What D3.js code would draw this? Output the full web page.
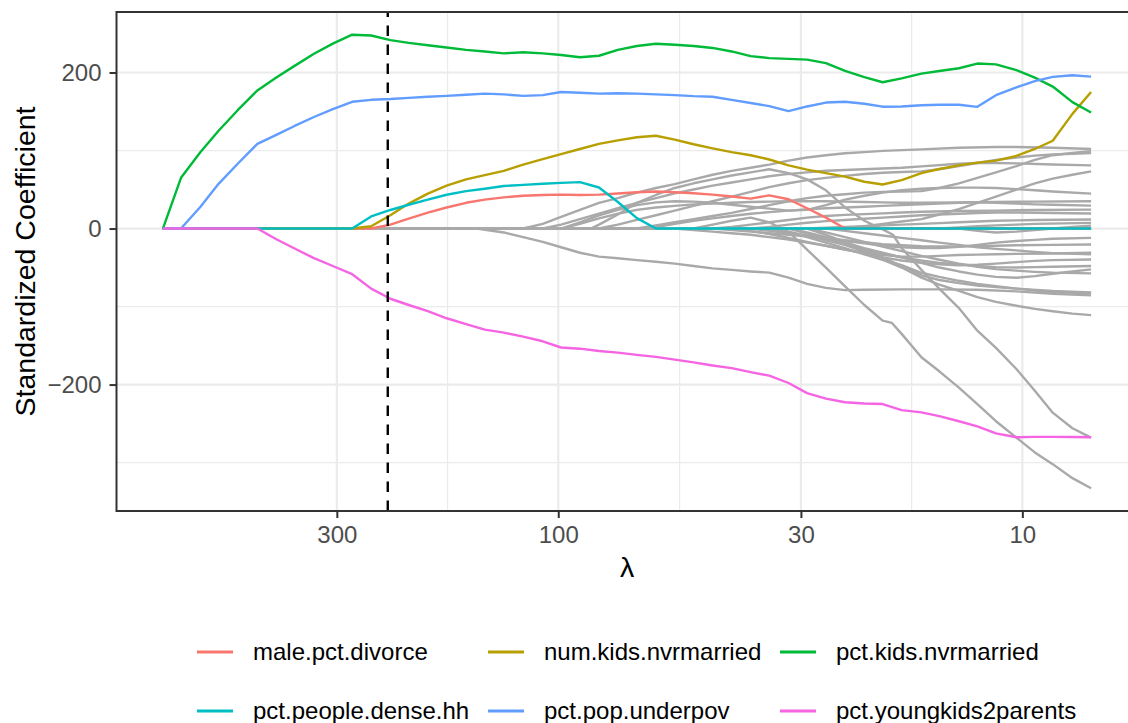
<!DOCTYPE html>
<html><head><meta charset="utf-8">
<script src="https://cdn.jsdelivr.net/npm/d3@7"></script>
<style>
html,body{margin:0;padding:0;background:#fff;}
svg{display:block;font-family:"Liberation Sans",Arial,Helvetica,sans-serif;}
</style></head>
<body><svg id="chart" width="1128" height="723"></svg>
<script>
// ---------------- data ----------------
const lambda = [711,650,590,540,490,445,405,370,336,306,278,253,230,210,191,174,158,144,131,119,108,98.6,89.8,81.7,74.4,67.7,61.6,56.1,51.1,46.5,42.3,38.5,35.1,31.9,29.1,26.5,24.1,21.9,20.0,18.2,16.5,15.1,13.7,12.5,11.4,10.3,9.4,8.6,7.8,7.11];

const seriesNames = ["male.pct.divorce","num.kids.nvrmarried","pct.kids.nvrmarried","pct.people.dense.hh","pct.pop.underpov","pct.youngkids2parents"];
const seriesColors = ["#F8766D","#B79F00","#00BA38","#00BFC4","#619CFF","#F564E3"];

const malePctDivorce = [0,0,0,0,0,0,0,0,0,0,0,0,5,12.6,20.5,27,33,37,40,42,43,43.5,43,43.5,45,46.5,47.5,46.5,45.2,43.5,41,38.4,42.5,37.5,26,14,0,0,0,0,0,0,0,0,0,0,0,0,0,0];
const numKidsNvrmarried = [0,0,0,0,0,0,0,0,0,0,0,3,17,32,44.7,55,63,68.5,74,82,89,95.5,102,108.5,113,117,119,114,108,102.8,98,94,88.5,81,75.5,71,66.5,60,56.5,62,71,76.3,81,84.5,87,93,102,112.5,147,175];
const pctKidsNvrmarried = [0,65,98,125,152,177,193.6,208.5,224,237,248.5,247.5,241.5,238,235,232,229,227,224.5,226,224.5,222.5,219.5,221.5,229,234,236.8,235.5,234,231.5,227,221,218.5,217.5,216.5,212,202,194,187.5,192.5,198.5,202,205.5,211.5,210.5,203,193.5,182,162,148.7];
const pctPeopleDenseHh = [0,0,0,0,0,0,0,0,0,0,0,15.5,23.8,30.5,37,43.3,48,51,54.5,56,57.5,58.5,59.5,52.6,34,13.3,0,0,0,0,0,0,0,0,0,0,0,0,0,0,0,0,0,0,0,0,0,0,0,0];
const pctPopUnderpov = [0,0,28,57,83.4,108.5,120,131.5,143,153,162.5,165,166,167.5,169,170,171.5,173,172,170,171,175,174,173,173.5,173,172,171,169.7,169,165,161,157,150.5,156.5,161.5,162.5,160,156.2,156.5,158,158.6,158.6,156,171,181,189,194.4,196.5,194.8];
const pctYoungkids2parents = [0,0,0,0,0,0,-13.7,-25.6,-38,-48,-58.5,-77,-90,-98,-106,-115,-122.5,-129.5,-133.5,-138.5,-144.5,-152.5,-154,-157,-159,-162,-164.5,-168,-171.5,-175.5,-179,-184,-188.6,-198,-211,-218,-222.7,-224.2,-225,-232.8,-235.7,-240.5,-247,-253.5,-262.5,-267.6,-267,-267,-267.3,-267.6];

// other (grey) coefficient paths as [lambda, coefficient] pairs
const otherCoefs = [
 [[711,0],[7.11,0]],
 [[711,0],[35.1,0],[31.9,-4],[29.1,-27],[26.5,-50],[24.1,-74],[21.9,-98],[20.0,-118],[19.1,-121],[18.2,-135],[16.5,-165],[15.1,-183],[13.7,-204],[12.5,-225],[11.4,-247],[10.3,-268],[9.4,-287],[8.6,-302],[7.8,-320],[7.11,-333]],
 [[711,0],[85,0],[81.7,5],[74.4,18],[67.7,33],[61.6,43],[56.1,52],[51.1,58],[46.5,63],[42.3,68],[38.5,72],[35.1,76],[31.9,71],[29.1,63],[26.5,49],[24.1,27],[21.9,10],[20.0,-1],[19.0,-8],[18.2,-25],[16.5,-53],[15.1,-77],[13.7,-102],[12.5,-131],[11.4,-153],[10.3,-180],[9.4,-208],[8.6,-236],[7.8,-256],[7.11,-268]],
 [[711,0],[150,0],[131,-5],[119,-11],[108,-17],[98.6,-24],[89.8,-31],[81.7,-36],[74.4,-38],[67.7,-40.5],[61.6,-42.5],[56.1,-45],[51.1,-48],[46.5,-51],[42.3,-53],[38.5,-55],[35.1,-56.5],[31.9,-63],[29.1,-71],[26.5,-76],[24.1,-79],[21.9,-78.5],[18.2,-78],[15.1,-78],[12.5,-78.5],[10.3,-80.5],[8.6,-83.5],[7.11,-85.7]],
 [[711,0],[119,0],[108,6],[98.6,15],[89.8,24],[81.7,33],[74.4,39],[67.7,46],[61.6,52],[56.1,57],[51.1,63],[46.5,69],[42.3,74],[38.5,78],[35.1,82],[31.9,87],[29.1,91],[26.5,94],[24.1,96.5],[21.9,98],[20.0,99.5],[16.5,101.5],[13.7,103.5],[11.4,104.5],[10.3,104.5],[8.6,103.5],[7.11,102]],
 [[711,0],[108,0],[98.6,5],[89.8,12],[81.7,19],[74.4,26],[67.7,33],[61.6,39],[56.1,45],[51.1,50],[46.5,55],[42.3,59],[38.5,63],[35.1,67],[31.9,70],[29.1,72],[26.5,74],[24.1,75],[21.9,76],[20.0,77],[18.2,78],[16.5,79.7],[13.7,83],[12.5,84],[11.4,84],[10.3,83.5],[8.6,82],[7.11,81]],
 [[711,0],[81.7,0],[74.4,5],[67.7,11],[61.6,17],[56.1,23],[51.1,29],[46.5,35],[42.3,41],[38.5,47],[35.1,53],[31.9,58],[29.1,62],[26.5,65],[24.1,67.5],[21.9,70],[20.0,71.5],[18.2,72.5],[16.5,73.3],[15.1,76],[13.7,80],[12.5,84],[11.4,88],[10.3,91],[9.4,93.5],[8.6,95],[7.11,96.8]],
 [[711,0],[24.1,0],[21.9,3],[20.0,6],[18.2,9],[16.5,12],[15.1,18],[13.7,25],[12.5,33],[11.4,41],[10.3,50],[9.4,58],[8.6,64],[7.8,69],[7.11,73.3]],
 [[711,0],[67.7,0],[61.6,4],[56.1,8],[51.1,12],[46.5,16],[42.3,20],[38.5,25],[35.1,30],[31.9,35],[29.1,39],[26.5,42],[24.1,44],[21.9,46],[20.0,47],[18.2,47.5],[16.5,48],[15.1,52],[13.7,58],[12.5,65],[11.4,72],[10.3,80],[9.4,88],[8.6,94],[7.8,97],[7.11,99]],
 [[711,0],[98.6,0],[89.8,8],[81.7,17],[74.4,24],[67.7,30],[61.6,33.5],[56.1,35],[51.1,34.5],[46.5,33],[42.3,30.5],[38.5,28],[35.1,25.5],[31.9,23],[29.1,24],[26.5,30],[24.1,37],[21.9,42],[20.0,46],[18.2,49],[16.5,51],[15.1,52],[13.7,52.5],[12.5,52.5],[11.4,52],[10.3,50.5],[9.4,49],[8.6,47.5],[7.11,44.8]],
 [[711,0],[98.6,0],[89.8,6],[81.7,13],[74.4,19],[67.7,24],[61.6,27],[56.1,29],[51.1,31],[46.5,32],[42.3,33],[38.5,34],[35.1,34.5],[31.9,35],[29.1,35],[26.5,35],[24.1,34.5],[21.9,34],[20.0,33.5],[18.2,33],[16.5,33],[13.7,33.5],[11.4,34],[9.4,34.5],[7.11,35]],
 [[711,0],[64,0],[61.6,2],[56.1,6],[51.1,10],[46.5,13],[42.3,16],[38.5,19],[35.1,21],[31.9,23],[29.1,24.5],[26.5,26],[24.1,27],[21.9,28],[20.0,29],[18.2,30],[16.5,31],[15.1,32],[13.7,33],[12.5,33.5],[11.4,33],[10.3,32],[9.4,31],[8.6,30.5],[7.11,29.4]],
 [[711,0],[46.5,0],[42.3,2],[38.5,5],[35.1,8],[31.9,11],[29.1,14],[26.5,16],[24.1,17.5],[21.9,18.5],[20.0,19.5],[18.2,20.5],[16.5,21.5],[13.7,22.5],[11.4,23],[9.4,23.8],[7.11,24.3]],
 [[711,0],[38.5,0],[35.1,2],[31.9,5],[29.1,7.5],[26.5,9.5],[24.1,11],[21.9,12.5],[20.0,14],[18.2,15.5],[16.5,17],[15.1,18],[13.7,19],[12.5,20],[11.4,20.5],[10.3,20.5],[8.6,20],[7.11,19.2]],
 [[711,0],[29.1,0],[26.5,1],[24.1,2],[21.9,3],[20.0,4],[18.2,5],[16.5,6],[15.1,7],[13.7,8],[12.5,9],[11.4,10],[10.3,10.5],[9.4,11],[7.11,11.5]],
 [[711,0],[51.1,0],[46.5,5],[42.3,10],[38.5,14],[35.1,8],[33,0],[15.1,0],[13.7,1.5],[12.5,3],[11.4,4],[10.3,5],[9.4,6],[7.11,7.2]],
 [[711,0],[13.7,0],[12.5,-3],[11.4,-5],[10.3,-4],[9.4,-2],[8.6,0],[7.8,2],[7.11,3.8]],
 [[711,0],[46.5,0],[42.3,-2],[38.5,-4],[35.1,-6],[31.9,-8],[29.1,-10],[26.5,-13],[24.1,-16],[21.9,-19],[20.0,-22],[18.2,-24],[16.5,-25],[15.1,-25],[13.7,-23.5],[12.5,-21],[11.4,-18],[10.3,-16],[9.4,-14.5],[8.6,-13],[7.11,-12]],
 [[711,0],[38.5,0],[35.1,-3],[31.9,-6],[29.1,-9],[26.5,-12],[24.1,-15],[21.9,-17.5],[20.0,-20],[18.2,-21.5],[16.5,-22.6],[15.1,-23],[13.7,-23],[12.5,-22.5],[11.4,-22],[10.3,-21.5],[8.6,-21],[7.11,-20.5]],
 [[711,0],[42.3,0],[38.5,-3],[35.1,-7],[31.9,-12],[29.1,-17],[26.5,-22],[24.1,-27],[21.9,-31],[20.0,-34],[18.2,-36],[16.5,-36],[15.1,-35],[13.7,-34],[12.5,-33.5],[11.4,-33],[10.3,-32.5],[8.6,-32],[7.11,-31]],
 [[711,0],[26.5,0],[24.1,-3],[21.9,-6],[20.0,-9],[18.2,-12],[16.5,-15],[15.1,-18],[13.7,-21],[12.5,-24],[11.4,-26],[10.3,-28],[9.4,-30],[8.6,-31.5],[7.11,-33]],
 [[711,0],[56.1,0],[51.1,-2],[46.5,-4],[42.3,-6],[38.5,-8],[35.1,-11],[31.9,-14],[29.1,-18],[26.5,-22],[24.1,-27],[21.9,-32],[20.0,-37],[18.2,-41],[16.5,-44],[15.1,-46],[13.7,-47],[12.5,-46.5],[11.4,-45],[10.3,-43],[9.4,-41.5],[8.6,-40.5],[7.11,-39.6]],
 [[711,0],[35.1,0],[31.9,-4],[29.1,-9],[26.5,-15],[24.1,-21],[21.9,-27],[20.0,-32],[18.2,-37],[16.5,-41],[15.1,-44],[13.7,-46],[12.5,-48],[11.4,-49.5],[10.3,-50],[9.4,-49.5],[8.6,-49],[7.11,-48]],
 [[711,0],[31.9,0],[29.1,-5],[26.5,-11],[24.1,-18],[21.9,-25],[20.0,-31],[18.2,-37],[16.5,-44],[15.1,-50],[13.7,-55],[12.5,-59],[11.4,-62],[10.3,-63],[9.4,-61],[8.6,-58],[7.8,-55],[7.11,-52.4]],
 [[711,0],[29.1,0],[26.5,-5],[24.1,-11],[21.9,-17],[20.0,-23],[18.2,-29],[16.5,-35],[15.1,-40],[13.7,-45],[12.5,-49],[11.4,-52],[10.3,-54],[9.4,-55.5],[8.6,-56.5],[7.11,-57.5]],
 [[711,0],[35.1,0],[31.9,-5],[29.1,-11],[26.5,-18],[24.1,-25],[21.9,-33],[20.0,-40],[18.2,-47],[16.5,-56.7],[15.1,-62],[13.7,-67],[12.5,-71],[11.4,-74],[10.3,-77],[9.4,-79.5],[8.6,-81.5],[7.11,-83]],
 [[711,0],[31.9,0],[29.1,-6],[26.5,-13],[24.1,-21],[21.9,-30],[20.0,-40],[18.2,-50],[16.5,-63],[15.1,-72],[13.7,-80],[12.5,-88],[11.4,-94],[10.3,-99],[9.4,-103],[8.6,-106],[7.8,-109],[7.11,-111]],
 [[711,0],[29.1,0],[26.5,-8],[24.1,-17],[21.9,-27],[20.0,-37],[18.2,-48],[16.5,-60],[15.1,-66],[13.7,-70],[12.5,-73],[11.4,-75],[10.3,-77],[8.6,-80],[7.11,-82]]
];

const xTickValues = [300,100,30,10];
const xTickLabels = ["300","100","30","10"];
const xMinorValues = [173.2,54.77,17.32];
const yTickValues = [-200,0,200];
const yTickLabels = ["\u2212200","0","200"];
const yMinorValues = [-300,-100,100];
const cvLambda = 233;

// ---------------- layout ----------------
const svg = d3.select("#chart");
const P = {left:116.5, right:1137.5, top:12, bottom:511};

const logs = lambda.map(v => Math.log10(v));
const lmax = d3.max(logs), lmin = d3.min(logs), lspan = lmax - lmin;
const x = d3.scaleLog()
  .domain([Math.pow(10, lmax + 0.05*lspan), Math.pow(10, lmin - 0.05*lspan)])
  .range([P.left, P.right]);

const colored = [malePctDivorce, numKidsNvrmarried, pctKidsNvrmarried, pctPeopleDenseHh, pctPopUnderpov, pctYoungkids2parents];
const allVals = colored.flat().concat(otherCoefs.flatMap(s => s.map(d => d[1])));
const vmax = d3.max(allVals), vmin = d3.min(allVals), vspan = vmax - vmin;
const y = d3.scaleLinear()
  .domain([vmin - 0.05*vspan, vmax + 0.05*vspan])
  .range([P.bottom, P.top]);

svg.append("defs").append("clipPath").attr("id","clip")
  .append("rect").attr("x",P.left).attr("y",P.top).attr("width",P.right-P.left).attr("height",P.bottom-P.top);

const grid = svg.append("g");
grid.selectAll("line.ymin").data(yMinorValues).join("line")
  .attr("x1",P.left).attr("x2",P.right).attr("y1",d=>y(d)).attr("y2",d=>y(d))
  .attr("stroke","#EBEBEB").attr("stroke-width",1.2);
grid.selectAll("line.xmin").data(xMinorValues).join("line")
  .attr("y1",P.top).attr("y2",P.bottom).attr("x1",d=>x(d)).attr("x2",d=>x(d))
  .attr("stroke","#EBEBEB").attr("stroke-width",1.2);
grid.selectAll("line.ymaj").data(yTickValues).join("line")
  .attr("x1",P.left).attr("x2",P.right).attr("y1",d=>y(d)).attr("y2",d=>y(d))
  .attr("stroke","#EBEBEB").attr("stroke-width",2.2);
grid.selectAll("line.xmaj").data(xTickValues).join("line")
  .attr("y1",P.top).attr("y2",P.bottom).attr("x1",d=>x(d)).attr("x2",d=>x(d))
  .attr("stroke","#EBEBEB").attr("stroke-width",2.2);

const plot = svg.append("g").attr("clip-path","url(#clip)");
const pairLine = d3.line().x(d=>x(d[0])).y(d=>y(d[1]));

plot.selectAll("path.grey").data(otherCoefs).join("path")
  .attr("d", pairLine).attr("fill","none").attr("stroke","#A9A9A9")
  .attr("stroke-width",2.4).attr("stroke-linejoin","round");

const valLine = d3.line().x((d,i)=>x(lambda[i])).y(d=>y(d));
colored.forEach((s,k) => {
  plot.append("path").attr("d", valLine(s)).attr("fill","none")
    .attr("stroke", seriesColors[k]).attr("stroke-width",2.4).attr("stroke-linejoin","round");
});

// cv lambda
plot.append("line").attr("x1",x(cvLambda)).attr("x2",x(cvLambda))
  .attr("y1",P.bottom).attr("y2",P.top)
  .attr("stroke","#000").attr("stroke-width",2.4).attr("stroke-dasharray","10.5,8.5");

// panel border
svg.append("rect").attr("x",P.left).attr("y",P.top).attr("width",P.right-P.left).attr("height",P.bottom-P.top)
  .attr("fill","none").attr("stroke","#333333").attr("stroke-width",2);

// axes
const xAxis = svg.append("g").attr("transform",`translate(0,${P.bottom})`)
  .call(d3.axisBottom(x).tickValues(xTickValues).tickFormat((d,i)=>xTickLabels[i]).tickSize(7).tickPadding(8));
const yAxis = svg.append("g").attr("transform",`translate(${P.left},0)`)
  .call(d3.axisLeft(y).tickValues(yTickValues).tickFormat((d,i)=>yTickLabels[i]).tickSize(7).tickPadding(8));
[xAxis,yAxis].forEach(a=>{
  a.select(".domain").remove();
  a.selectAll(".tick line").attr("stroke","#333333").attr("stroke-width",2);
  a.selectAll(".tick text").attr("fill","#4D4D4D").style("font-size","24px")
   .style("font-family",'"Liberation Sans",Arial,sans-serif');
});
xAxis.selectAll(".tick text").attr("dy","0.71em");
yAxis.selectAll(".tick text").attr("dy","0.35em");

// titles
svg.append("text").attr("x",(P.left+P.right)/2).attr("y",567).attr("dy","0.35em")
  .attr("text-anchor","middle").style("font-size","28.5px").attr("fill","#000").text("\u03BB");
svg.append("text").attr("transform",`translate(25,${(P.top+P.bottom)/2}) rotate(-90)`)
  .attr("dy","0.35em").attr("text-anchor","middle").style("font-size","28.5px").attr("fill","#000")
  .text("Standardized Coefficient");

// legend
const legCols = [197,488,780], legRows = [652,711];
const leg = svg.append("g");
seriesNames.forEach((n,i)=>{
  const cx = legCols[i%3], cy = legRows[Math.floor(i/3)];
  leg.append("line").attr("x1",cx).attr("x2",cx+36).attr("y1",cy).attr("y2",cy)
    .attr("stroke",seriesColors[i]).attr("stroke-width",2.8);
  leg.append("text").attr("x",cx+56).attr("y",cy).attr("dy","0.35em")
    .style("font-size","24px").attr("fill","#000").text(n);
});
</script></body></html>
